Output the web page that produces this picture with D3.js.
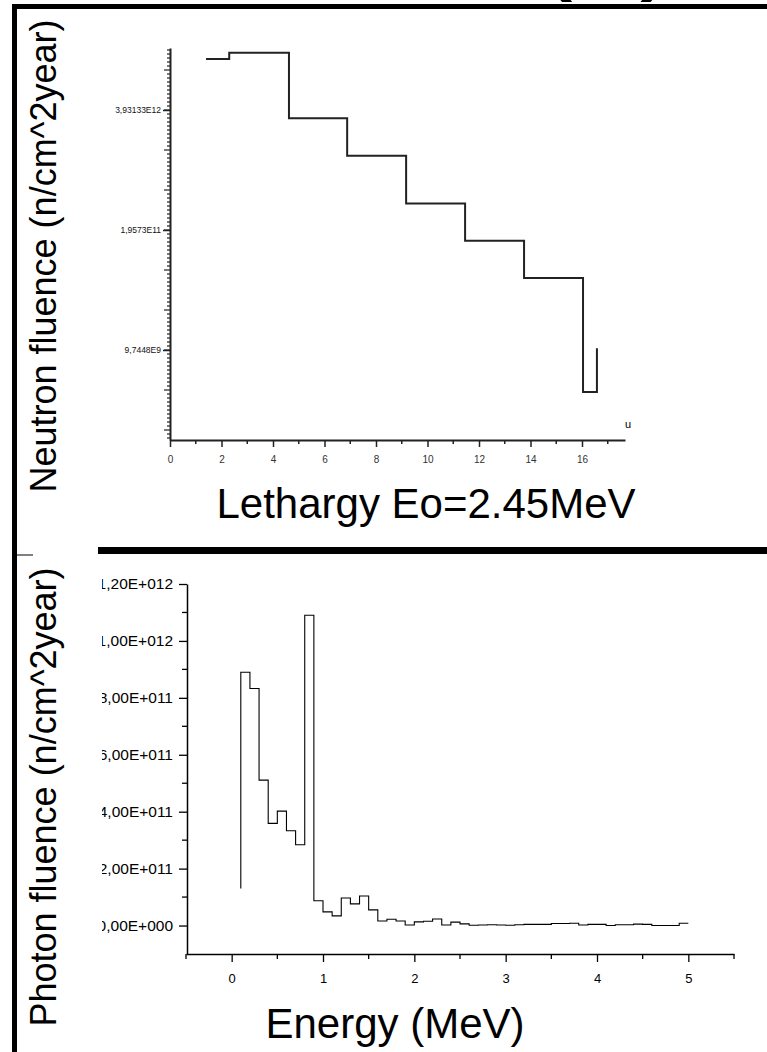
<!DOCTYPE html>
<html>
<head>
<meta charset="utf-8">
<script src="https://cdn.jsdelivr.net/npm/d3@7"></script>
<style>
  body { margin: 0; background: #fff; }
  svg { display: block; font-family: Arial, "Liberation Sans", sans-serif; }
</style>
</head>
<body>
<div id="chart"></div>
<script>
// neutron fluence vs lethargy (step curve, log axis)
var lethargy = [1.4, 2.3, 4.62, 6.88, 9.17, 11.46, 13.75, 16.04, 16.58];
var neutronFluence = [1.41e13, 1.65e13, 3.2e12, 1.25e12, 3.8e11, 1.5e11, 5.9e10, 3.4e9, 1.02e10];
var neutronTickValues = [9.7448e9, 1.9573e11, 3.93133e12];
var neutronTickLabels = ["9,7448E9", "1,9573E11", "3,93133E12"];
var lethargyTicks = [0, 2, 4, 6, 8, 10, 12, 14, 16];

// photon fluence vs energy (histogram, 0.1 MeV bins)
var energy = [0.1, 0.1, 0.2, 0.3, 0.4, 0.5, 0.6, 0.7, 0.8, 0.9, 1.0,
  1.1, 1.2, 1.3, 1.4, 1.5, 1.6, 1.7, 1.8, 1.9, 2.0,
  2.1, 2.2, 2.3, 2.4, 2.5, 2.6, 2.7, 2.8, 2.9, 3.0,
  3.1, 3.2, 3.3, 3.4, 3.5, 3.6, 3.7, 3.8, 3.9, 4.0,
  4.1, 4.2, 4.3, 4.4, 4.5, 4.6, 4.7, 4.8, 4.9, 5.0];
var photonFluence = [1.3e11, 8.9e11, 8.33e11, 5.11e11, 3.59e11, 4.02e11, 3.33e11, 2.84e11, 1.09e12, 0.87e11, 0.48e11,
  0.34e11, 0.97e11, 0.76e11, 1.04e11, 0.55e11, 0.16e11, 0.22e11, 0.16e11, 0.02e11, 0.13e11,
  0.15e11, 0.23e11, 0.02e11, 0.12e11, 0.06e11, 0.01e11, 0.02e11, 0.03e11, 0.02e11, 0.01e11,
  0.03e11, 0.04e11, 0.04e11, 0.04e11, 0.07e11, 0.07e11, 0.08e11, 0.02e11, 0.04e11, 0.04e11,
  0.0, 0.03e11, 0.03e11, 0.05e11, 0.04e11, 0.0, 0.0, 0.0, 0.08e11, 0.08e11];
var photonTicks = [0, 2e11, 4e11, 6e11, 8e11, 1e12, 1.2e12];
var photonTickLabels = ["0,00E+000", "2,00E+011", "4,00E+011", "6,00E+011", "8,00E+011", "1,00E+012", "1,20E+012"];
var energyTicks = [0, 1, 2, 3, 4, 5];

var svg = d3.select("#chart").append("svg")
  .attr("width", 767)
  .attr("height", 1052);

svg.append("rect").attr("width", 767).attr("height", 1052).attr("fill", "#fff");

// slide frame bits (title of the slide is cut off at the top)
svg.append("text")
  .attr("x", 533).attr("y", -23)
  .attr("font-size", 120)
  .text("(a)");
svg.append("rect").attr("x", 12).attr("y", 4).attr("width", 755).attr("height", 5).attr("fill", "#000");
svg.append("rect").attr("x", 12).attr("y", 4).attr("width", 5).attr("height", 1048).attr("fill", "#000");
svg.append("rect").attr("x", 98).attr("y", 547).attr("width", 669).attr("height", 7).attr("fill", "#000");
svg.append("line").attr("x1", 17).attr("x2", 33).attr("y1", 555).attr("y2", 555)
  .attr("stroke", "#000").attr("stroke-width", 1);

// ---------- top chart ----------
var xU = d3.scaleLinear().domain([0, 17.67]).range([170, 625]);
var yN = d3.scaleLog().base(Math.E).domain([Math.exp(20.75), Math.exp(30.55)]).range([440, 48]);

var topG = svg.append("g");

// minor / medium y ticks (ln scale)
var minorLn = d3.range(208, 306).map(function (k) { return k / 10; });
topG.append("g").selectAll("line").data(minorLn).enter().append("line")
  .attr("x1", function (d) { return Math.abs(d - Math.round(d)) < 1e-6 ? 164 : 167; })
  .attr("x2", 170)
  .attr("y1", function (d) { return yN(Math.exp(d)); })
  .attr("y2", function (d) { return yN(Math.exp(d)); })
  .attr("stroke", "#222").attr("stroke-width", 1.2);

var yAxisN = d3.axisLeft(yN)
  .tickValues(neutronTickValues)
  .tickFormat(function (d, i) { return neutronTickLabels[i]; })
  .tickSize(7).tickSizeOuter(0).tickPadding(2);
var gyN = topG.append("g").attr("transform", "translate(170,0)").call(yAxisN);
gyN.select(".domain").attr("stroke", "#222").attr("stroke-width", 2);
gyN.selectAll(".tick line").attr("stroke", "#222").attr("stroke-width", 1.5);
gyN.selectAll(".tick text").attr("font-size", 8.5).attr("fill", "#111")
  .attr("font-family", "Arial, 'Liberation Sans', sans-serif");

var xAxisU = d3.axisBottom(xU)
  .tickValues(lethargyTicks)
  .tickFormat(d3.format("d"))
  .tickSize(7).tickSizeOuter(0).tickPadding(9);
var gxU = topG.append("g").attr("transform", "translate(0,440)").call(xAxisU);
gxU.select(".domain").attr("stroke", "#222").attr("stroke-width", 2);
gxU.selectAll(".tick line").attr("stroke", "#222").attr("stroke-width", 1.5);
gxU.selectAll(".tick text").attr("font-size", 10).attr("fill", "#333")
  .attr("font-family", "Arial, 'Liberation Sans', sans-serif");

topG.append("g").selectAll("line").data(d3.range(1, 18, 2)).enter().append("line")
  .attr("x1", function (d) { return xU(d); })
  .attr("x2", function (d) { return xU(d); })
  .attr("y1", 440).attr("y2", 444)
  .attr("stroke", "#222").attr("stroke-width", 1.5);

topG.append("text").attr("x", 625).attr("y", 428).attr("font-size", 11).text("u");

var lineN = d3.line()
  .x(function (d, i) { return xU(lethargy[i]); })
  .y(function (d) { return yN(d); })
  .curve(d3.curveStepAfter);
topG.append("path")
  .datum(neutronFluence)
  .attr("d", lineN)
  .attr("fill", "none")
  .attr("stroke", "#222")
  .attr("stroke-width", 2);

svg.append("text")
  .attr("transform", "translate(56,256) rotate(-90)")
  .attr("text-anchor", "middle")
  .attr("font-size", 36)
  .text("Neutron fluence (n/cm^2year)");

svg.append("text")
  .attr("x", 426).attr("y", 518)
  .attr("text-anchor", "middle")
  .attr("font-size", 42)
  .text("Lethargy Eo=2.45MeV");

// ---------- bottom chart ----------
var xE = d3.scaleLinear().domain([-0.5, 5.5]).range([186, 734]);
var yP = d3.scaleLinear().domain([-1e11, 1.2e12]).range([954, 584]);

// the y tick labels are cut at the left edge of the plot window in the source
svg.append("clipPath").attr("id", "labclip")
  .append("rect").attr("x", -85).attr("y", -400).attr("width", 200).attr("height", 1400);

var botG = svg.append("g");

var yAxisP = d3.axisLeft(yP)
  .tickValues(photonTicks)
  .tickFormat(function (d, i) { return photonTickLabels[i]; })
  .tickSize(8).tickSizeOuter(0).tickPadding(6);
var gyP = botG.append("g").attr("transform", "translate(187,0)")
  .call(yAxisP);
gyP.selectAll(".tick text").attr("font-size", 15.5)
  .attr("font-family", "Arial, 'Liberation Sans', sans-serif")
  .attr("clip-path", "url(#labclip)");
gyP.select(".domain").attr("stroke-width", 1.5);
gyP.selectAll(".tick line").attr("stroke-width", 1.3);

botG.append("g").selectAll("line").data(d3.range(1e11, 1.2e12, 2e11)).enter().append("line")
  .attr("x1", 182).attr("x2", 187)
  .attr("y1", function (d) { return yP(d); })
  .attr("y2", function (d) { return yP(d); })
  .attr("stroke", "#000").attr("stroke-width", 1.3);

var xAxisE = d3.axisBottom(xE)
  .tickValues(energyTicks)
  .tickFormat(d3.format("d"))
  .tickSize(8).tickSizeOuter(0).tickPadding(12);
var gxE = botG.append("g").attr("transform", "translate(0,954)").call(xAxisE);
gxE.selectAll(".tick text").attr("font-size", 13)
  .attr("font-family", "Arial, 'Liberation Sans', sans-serif");
gxE.select(".domain").attr("stroke-width", 1.5);
gxE.selectAll(".tick line").attr("stroke-width", 1.3);

botG.append("g").selectAll("line").data(d3.range(-0.5, 5.6, 1)).enter().append("line")
  .attr("x1", function (d) { return xE(d); })
  .attr("x2", function (d) { return xE(d); })
  .attr("y1", 954).attr("y2", 959)
  .attr("stroke", "#000").attr("stroke-width", 1.3);

var lineP = d3.line()
  .x(function (d, i) { return xE(energy[i]); })
  .y(function (d) { return yP(d); })
  .curve(d3.curveStepAfter);
botG.append("path")
  .datum(photonFluence)
  .attr("d", lineP)
  .attr("fill", "none")
  .attr("stroke", "#000")
  .attr("stroke-width", 1.1);

svg.append("text")
  .attr("transform", "translate(56,797) rotate(-90)")
  .attr("text-anchor", "middle")
  .attr("font-size", 36)
  .text("Photon fluence (n/cm^2year)");

svg.append("text")
  .attr("x", 395).attr("y", 1038)
  .attr("text-anchor", "middle")
  .attr("font-size", 42)
  .text("Energy (MeV)");
</script>
</body>
</html>
